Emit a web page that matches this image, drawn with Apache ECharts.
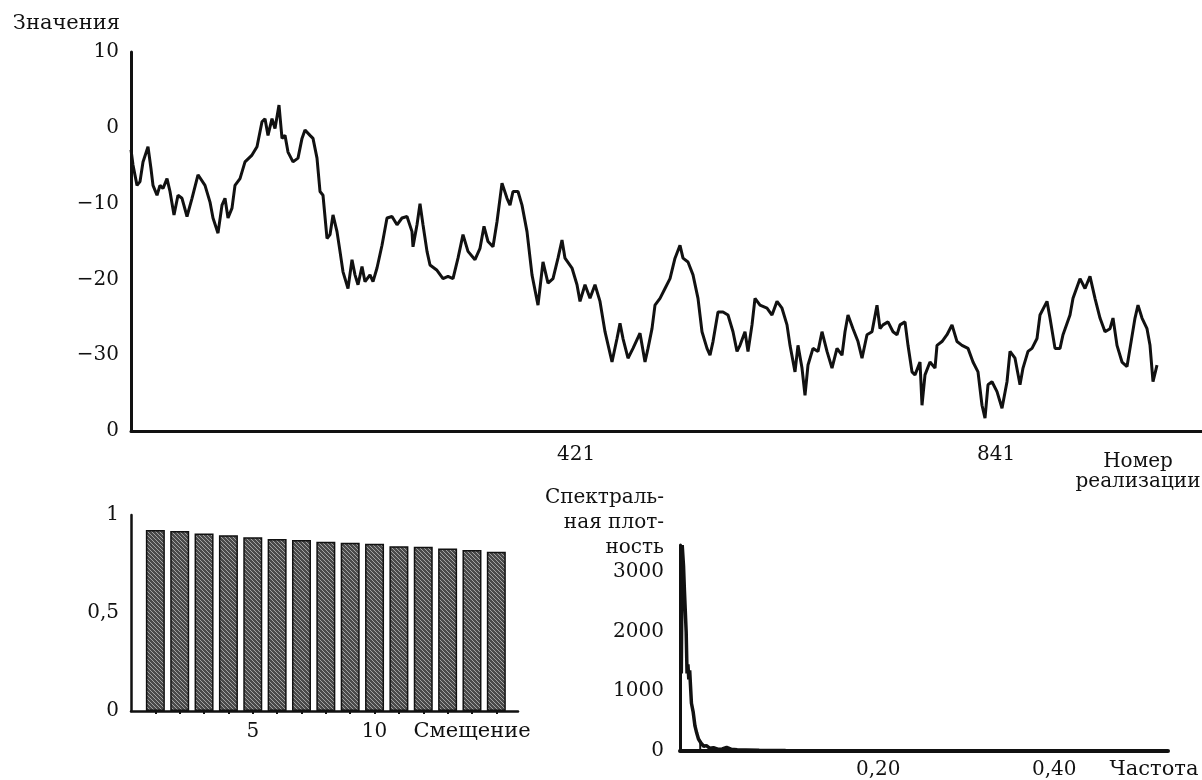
<!DOCTYPE html>
<html>
<head>
<meta charset="utf-8">
<script src="https://cdn.jsdelivr.net/npm/echarts@6/dist/echarts.min.js"></script>
<style>
  html, body { margin: 0; padding: 0; background: #fff; }
  #chart { width: 1202px; height: 780px; }
</style>
</head>
<body>
<div id="chart"></div>
<script>
// верхний график: номер реализации / значение
const walkIdx = [0,2,6,9,12,17,20,22,26,29,32,36,39,43,47,51,56,61,67,74,79,82,87,91,94,97,101,104,109,114,121,126,131,134,137,141,144,148,151,154,157,162,167,171,174,179,182,186,189,192,196,199,202,206,209,212,217,221,224,227,231,234,239,242,246,251,256,261,266,271,276,281,282,286,289,292,296,299,306,312,317,322,327,332,337,344,349,353,357,362,366,371,376,379,382,387,391,396,401,407,412,417,422,427,431,434,441,446,449,454,459,464,469,474,481,486,489,492,497,502,509,
  514,517,521,524,529,534,539,544,549,552,557,562,567,571,576,579,582,587,592,597,602,606,609,614,617,621,624,629,636,641,646,651,656,659,664,667,671,674,677,682,687,691,696,701,706,711,714,717,722,727,731,736,741,746,749,752,757,762,766,769,774,777,781,784,789,791,794,799,804,806,811,816,821,826,831,837,842,847,851,854,857,861,866,871,876,879,884,889,892,897,901,906,909,916,919,924,929,932,939,942,949,954,959,964,969,974,979,982,986,991,996,999,1004,1007,1011,1016,1019,1022,1026];
const walkVal = [-2.9,-4.9,-7.6,-7.1,-4.5,-2.5,-5.4,-7.6,-8.9,-7.6,-8.0,-6.7,-8.4,-11.5,-8.9,-9.3,-11.7,-9.3,-6.2,-7.6,-9.8,-11.9,-13.9,-10.2,-9.3,-11.9,-10.6,-7.6,-6.7,-4.5,-3.6,-2.5,0.8,1.2,-1.0,1.2,-0.1,3.0,-1.4,-1.0,-3.2,-4.5,-4.0,-1.4,-0.3,-1.0,-1.4,-4.0,-8.4,-8.9,-14.6,-14.1,-11.5,-13.7,-16.3,-19.0,-21.2,-17.4,-19.4,-20.7,-18.3,-20.3,-19.4,-20.3,-18.5,-15.5,-11.9,-11.7,-12.8,-11.9,-11.7,-13.7,-15.7,-12.8,-10.0,-12.8,-16.3,-18.1,-18.8,-19.9,-19.6,-19.9,-17.2,-14.1,-16.3,-17.4,-15.9,-13.0,-15.0,-15.7,-12.4,-7.3,-9.3,-10.2,-8.4,-8.4,-10.2,-13.7,-19.4,-23.4,-17.7,-20.5,-19.9,-17.2,-14.8,-17.2,-18.5,-20.7,-22.9,-20.7,-22.5,-20.7,-22.9,-26.9,-30.9,-27.8,-25.8,-27.8,-30.4,-29.1,-27.1,
  -30.9,-29.1,-26.5,-23.4,-22.5,-21.2,-19.9,-17.2,-15.5,-17.2,-17.7,-19.4,-22.5,-26.9,-29.1,-30.0,-28.2,-24.3,-24.3,-24.7,-26.9,-29.5,-28.7,-26.9,-29.5,-26.0,-22.5,-23.4,-23.8,-24.7,-22.9,-23.8,-26.0,-28.7,-32.2,-28.7,-31.7,-35.3,-31.3,-29.1,-29.5,-26.9,-29.5,-31.7,-29.1,-30.0,-26.9,-24.7,-26.5,-28.2,-30.4,-27.3,-26.9,-23.4,-26.5,-26.0,-25.6,-26.9,-27.3,-26.0,-25.6,-28.7,-32.2,-32.6,-30.9,-36.6,-32.6,-30.9,-31.7,-28.7,-28.2,-27.3,-26.0,-28.2,-28.7,-29.1,-30.9,-32.2,-36.6,-38.3,-33.9,-33.5,-34.8,-37.0,-33.5,-29.5,-30.4,-33.9,-31.7,-29.5,-29.1,-27.8,-24.7,-22.9,-25.1,-29.1,-29.1,-27.3,-24.7,-22.5,-19.9,-21.2,-19.6,-22.5,-25.1,-26.9,-26.5,-25.1,-28.7,-30.9,-31.5,-29.1,-25.1,-23.4,-25.1,-26.5,-28.7,-33.5,-31.3];
const walkTicks = [421, 841];

// автокорреляция по смещениям
const lags = [1,2,3,4,5,6,7,8,9,10,11,12,13,14,15];
const acf = [0.923,0.918,0.906,0.897,0.887,0.878,0.873,0.863,0.858,0.853,0.840,0.838,0.829,0.822,0.812];
const lagTicks = [5, 10];

// спектральная плотность
const freq = [0.0015,0.0025,0.004,0.005,0.007,0.008,0.009,0.010,0.011,0.013,0.015,0.017,0.019,0.021,0.024,0.027,0.030,0.034,0.038,0.043,0.048,0.053,0.058,0.065,0.075,0.09,0.12,0.16,0.2,0.3,0.4,0.5];
const density = [1300,3450,3100,2700,2000,1300,1450,1200,1350,800,650,420,300,200,130,80,90,45,55,30,35,60,30,20,18,12,8,5,4,3,2,1];
const boxFreq = [0, 0, 0.023, 0.023];
const boxVal = [1200, 0, 0, 150];
const freqTicks = [0.2, 0.4];
const densityTicks = [0, 1000, 2000, 3000];

function hatch() {
  const c = document.createElement('canvas');
  c.width = 4; c.height = 4;
  const g = c.getContext('2d');
  g.fillStyle = '#4a4a4a';
  g.fillRect(0, 0, 4, 4);
  g.strokeStyle = '#a3a3a3';
  g.lineWidth = 1;
  g.beginPath(); g.moveTo(0, 0); g.lineTo(4, 4); g.stroke();
  return c;
}

const zip = (a, b) => a.map((v, i) => [v, b[i]]);
const minus = s => String(s).replace('-', '\u2212');
const comma = s => String(s).replace('.', ',');

const axisLine = w => ({ show: true, onZero: false, lineStyle: { color: '#111', width: w } });
const font = { fontFamily: 'DejaVu Serif', fontSize: 20, color: '#111' };
const nameFont = { ...font, fontSize: 21 };

const chart = echarts.init(document.getElementById('chart'));
chart.setOption({
  animation: false,
  backgroundColor: '#fff',
  textStyle: font,
  grid: [
    { left: 131, top: 52, width: 1071, height: 379 },
    { left: 131, top: 515, width: 387, height: 196 },
    { left: 680, top: 545, width: 488, height: 207 }
  ],
  xAxis: [
    {
      gridIndex: 0, type: 'value', min: 0, max: 1071,
      axisLine: axisLine(3), axisTick: { show: false }, splitLine: { show: false },
      axisLabel: { customValues: walkTicks, align: 'left', margin: 14, padding: [0, 0, 0, 5], ...font },
      name: 'Номер\nреализации', nameLocation: 'end', nameGap: -64,
      nameTextStyle: { ...font, align: 'center', verticalAlign: 'top', lineHeight: 20, padding: [21, 0, 0, 0] }
    },
    {
      gridIndex: 1, type: 'value', min: 0, max: 15.89,
      axisLine: axisLine(2.5), splitLine: { show: false },
      axisTick: { show: true, customValues: lags, length: 3, lineStyle: { color: '#111', width: 2 } },
      axisLabel: { customValues: lagTicks, margin: 11, ...font },
      name: 'Смещение', nameLocation: 'end', nameGap: -46,
      nameTextStyle: { ...nameFont, align: 'center', verticalAlign: 'top', padding: [10, 0, 0, 0] }
    },
    {
      gridIndex: 2, type: 'value', min: 0, max: 0.5545,
      axisLine: axisLine(4), axisTick: { show: false }, splitLine: { show: false },
      axisLabel: { customValues: freqTicks, align: 'left', margin: 9, formatter: v => comma(v.toFixed(2)), ...font },
      name: 'Частота', nameLocation: 'end', nameGap: -14,
      nameTextStyle: { ...nameFont, align: 'center', verticalAlign: 'top', padding: [8, 0, 0, 0] }
    }
  ],
  yAxis: [
    {
      gridIndex: 0, type: 'value', min: -40, max: 10, interval: 10,
      axisLine: axisLine(3), axisTick: { show: false }, splitLine: { show: false },
      axisLabel: { margin: 12, formatter: v => (v === -40 ? '0' : minus(v)), ...font },
      name: 'Значения', nameLocation: 'end', nameGap: 28,
      nameTextStyle: { ...nameFont, align: 'right', verticalAlign: 'middle', padding: [0, 11, 0, 0] }
    },
    {
      gridIndex: 1, type: 'value', min: 0, max: 1, interval: 0.5,
      axisLine: axisLine(2.5), axisTick: { show: false }, splitLine: { show: false },
      axisLabel: { margin: 12, formatter: v => comma(v), ...font }
    },
    {
      gridIndex: 2, type: 'value', min: 0, max: 3450,
      axisLine: axisLine(3), axisTick: { show: false }, splitLine: { show: false },
      axisLabel: { customValues: densityTicks, margin: 16, formatter: v => String(v), ...font },
      name: 'Спектраль-\nная плот-\nность', nameLocation: 'end', nameGap: -15,
      nameTextStyle: { ...font, align: 'right', verticalAlign: 'bottom', lineHeight: 25, padding: [0, 16, 0, 0] }
    }
  ],
  series: [
    {
      type: 'line', xAxisIndex: 0, yAxisIndex: 0, data: zip(walkIdx, walkVal),
      showSymbol: false, lineStyle: { color: '#111', width: 3 }
    },
    {
      type: 'bar', xAxisIndex: 1, yAxisIndex: 1, data: zip(lags, acf), barWidth: 19,
      itemStyle: { color: { image: hatch(), repeat: 'repeat' }, borderColor: '#111', borderWidth: 1.5 }
    },
    {
      type: 'line', xAxisIndex: 2, yAxisIndex: 2, data: zip(boxFreq, boxVal),
      showSymbol: false, lineStyle: { color: '#111', width: 2 }
    },
    {
      type: 'line', xAxisIndex: 2, yAxisIndex: 2, data: zip(freq, density),
      showSymbol: false, lineStyle: { color: '#111', width: 3.5 }
    }
  ]
});
</script>
</body>
</html>
